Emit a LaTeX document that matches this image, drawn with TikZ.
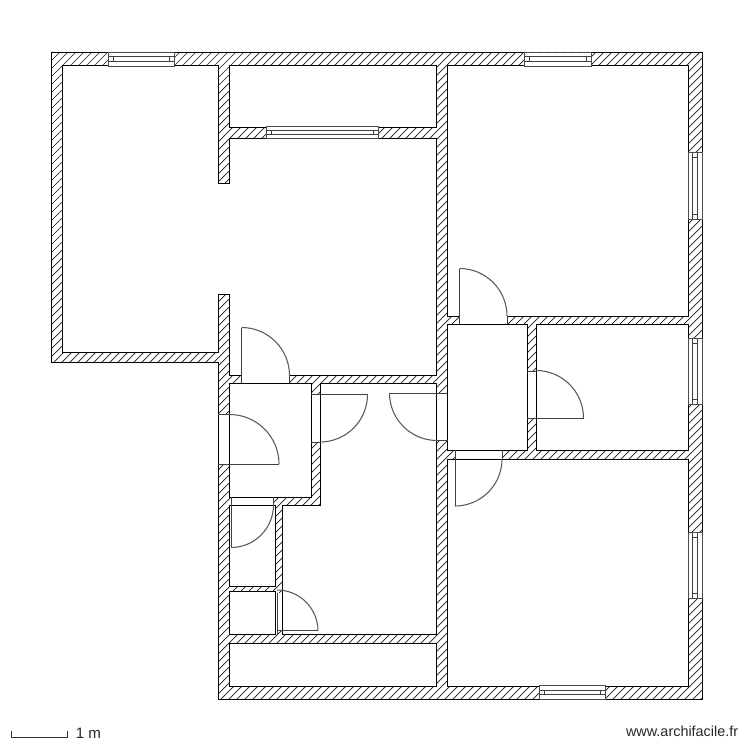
\documentclass[tikz,border=0pt]{standalone}
\usepackage{fontspec}
\setmainfont{Liberation Sans}
\usetikzlibrary{calc}

\tikzset{
  wall/.style={draw=black, line width=.5pt},
  room/.style={draw=black, fill=white, line width=.5pt},
  hatch/.style={black!90, line width=.4pt},
  opening/.style={fill=white, draw=none},
  leaf/.style={black!75, line width=.55pt},
  swing/.style={black!65, line width=.6pt},
  winframe/.style={draw=black!70, fill=white, line width=.5pt},
  winline/.style={black!75, line width=.45pt},
  plantext/.style={inner sep=0pt, text=black!85}
}

\begin{document}
\begin{tikzpicture}[x=.02cm, y=-.02cm]
\useasboundingbox (0,0) rectangle (750,750);

% walls
\fill[white] (51,52) -- (702,52) -- (702,699) -- (218,699) -- (218,362.5) -- (51,362.5) -- cycle;
\begin{scope}
\clip (51,52) -- (702,52) -- (702,699) -- (218,699) -- (218,362.5) -- (51,362.5) -- cycle;
\foreach \k in {0,8,...,1500} \draw[hatch] (\k,0) --++(-750,750);
\end{scope}
\draw[wall] (51,52) -- (702,52) -- (702,699) -- (218,699) -- (218,362.5) -- (51,362.5) -- cycle;

% rooms
\draw[room] (62,65) -- (218,65) -- (218,183) -- (229.5,183) -- (229.5,138) -- (436.5,138) -- (436.5,375) -- (229.5,375) -- (229.5,294) -- (218,294) -- (218,352) -- (62,352) -- cycle;
\draw[room] (229.5,65) rectangle (436.5,127);
\draw[room] (320,383) -- (436.5,383) -- (436.5,634) -- (282,634) -- (282,505.5) -- (320,505.5) -- cycle;
\draw[room] (229.5,505.5) rectangle (275,586);
\draw[room] (229.5,591) rectangle (275,634);
\draw[room] (229.5,643) rectangle (436.5,686);
\draw[room] (447.5,65) rectangle (688.5,316);
\draw[room] (536,324) rectangle (688.5,450);
\draw[room] (447.5,459) rectangle (688.5,686);

% door openings
\foreach \xa/\ya/\xb/\yb in {242/373/289.5/383, 218.5/414.5/229/464, 311.5/394.5/319.5/442, 437/393/447/440.5, 460/314/507/324, 527.5/371/535.5/418, 455.5/450.5/502/458.5, 231.5/497.5/273.5/505, 275.5/593/281.5/631}
  \fill[opening] (\xa,\ya) rectangle (\xb,\yb);

% cupboards
\draw[room] (229.5,383) rectangle (311,497);
\draw[room] (447.5,324) rectangle (527,450);

% door leaves and jambs
\foreach \xa/\ya/\xb/\yb in {241.5/383/241.5/327.5, 289.5/375/289.5/383, 218/464/279/464, 218/414.5/229.5/414.5, 311/394.5/367.5/394.5, 311/442/320/442, 447/393/389.5/393, 436.5/440.5/447.5/440.5, 459.5/324/459.5/268.5, 507/316/507/324, 527/418/583.5/418, 527/371/536/371, 455/450/455/506, 502/450/502/459, 231/497/231/547.5, 273.5/497/273.5/505, 277/593/277/634, 277/630.5/318/630.5}
  \draw[leaf] (\xa,\ya) -- (\xb,\yb);

% door swings
\foreach \cx/\cy/\sa/\r in {241.5/375.5/-90/48, 229.5/464/-90/49.5, 320/394.5/0/47.5, 437/393/90/47.5, 459.5/316/-90/47.5, 536/418/-90/47.5, 455/459/0/47, 231/505/0/42.5, 277/631/-90/41}
  \draw[swing] ($(\cx,\cy)+(\sa:\r)$) arc[start angle=\sa, delta angle=90, radius=\r];

% windows along x
\foreach \xa/\xb/\ya/\yb/\la/\lb in {108.5/174.5/52/66/56/61, 266.5/378/126.5/138/130/134, 524.5/591/52/66/56/61, 539/605.5/685/699/690/694.5} {
  \draw[winframe] (\xa,\ya) rectangle (\xb,\yb);
  \draw[winline] (\xa,\la) -- (\xb,\la) (\xa,\lb) -- (\xb,\lb);
  \draw[winline] ({\xa+5},\la) --++(0,{\lb-\la}) ({\xb-5},\la) --++(0,{\lb-\la});
}

% windows along y
\foreach \ya/\yb in {152.5/219, 338/404.5, 532/598.5} {
  \draw[winframe] (688,\ya) rectangle (702,\yb);
  \draw[winline] (692.5,\ya) -- (692.5,\yb) (697.5,\ya) -- (697.5,\yb);
  \draw[winline] (692.5,{\ya+5}) --++(5,0) (692.5,{\yb-5}) --++(5,0);
}

% scale
\draw[black!80, line width=.45pt] (11.5,731) -- (11.5,737.5) -- (67.5,737.5) -- (67.5,731);
\node[plantext, anchor=base west] (metre) at (75.5,738.5) {\fontsize{8.6}{10}\selectfont 1 m};
\node[plantext, anchor=base east] (site) at (738.5,736.5) {\fontsize{8.2}{10}\selectfont www.archifacile.fr};

\end{tikzpicture}
\end{document}
